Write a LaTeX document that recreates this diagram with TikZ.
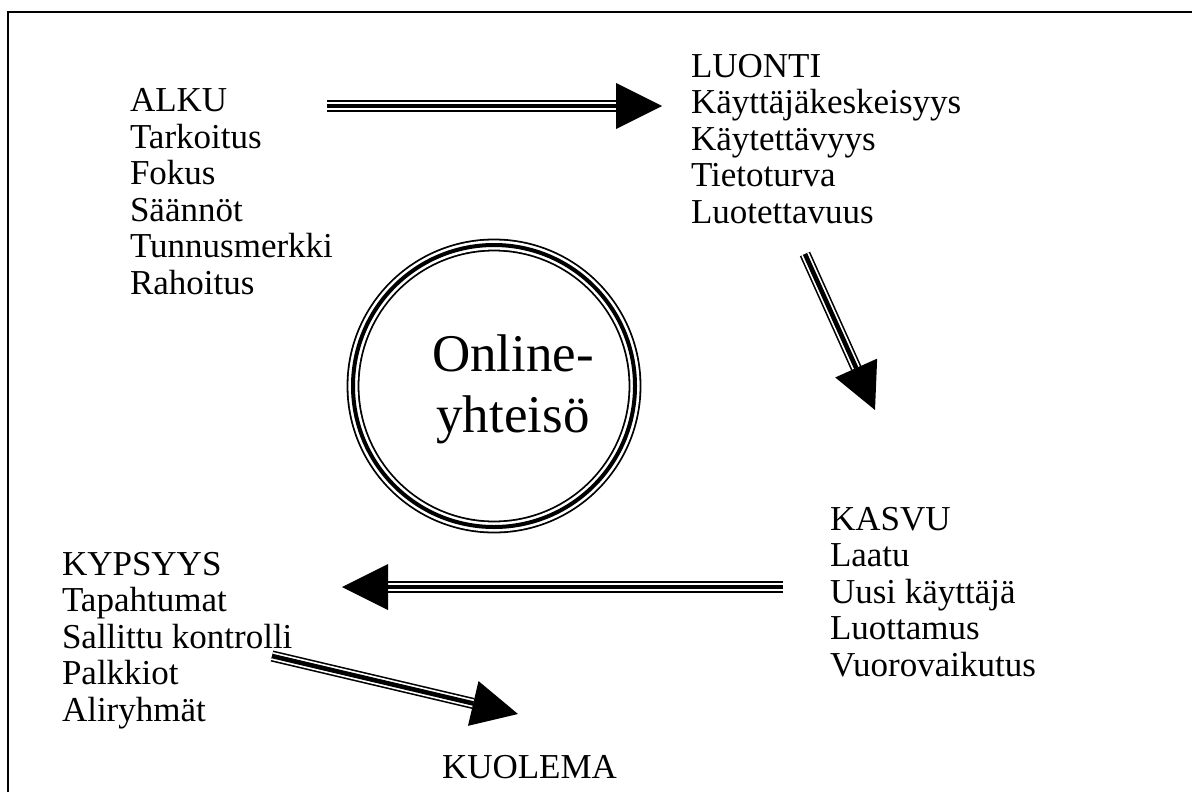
\documentclass[tikz,border=0pt]{standalone}
\usepackage{fontspec}
\setmainfont{Liberation Serif}
\usetikzlibrary{calc}

% one unit = one pixel of a 1192 x 792 canvas, y grows downwards
\tikzset{
  every picture/.style={x=0.5pt,y=-0.5pt},
  txt/.style={anchor=base west,inner sep=0pt,outer sep=0pt,
              font=\fontsize{17.5}{21}\selectfont},
  bigtxt/.style={anchor=base,inner sep=0pt,outer sep=0pt,
              font=\fontsize{26.5}{32}\selectfont},
  % thin - thick - thin line
  triple/.style={draw=black,line width=5.6pt,
                 postaction={draw=white,line width=4pt},
                 postaction={draw=black,line width=2.3pt}},
  tripleround/.style={draw=black,line width=6.4pt,
                 postaction={draw=white,line width=4.6pt},
                 postaction={draw=black,line width=2pt}},
  headfill/.style={fill=black},
  frame/.style={draw=black,line width=1pt}
}

% shaft from #1 to the head base, filled triangular head ending at #2
\newcommand{\fatarrow}[2]{%
  \coordinate (hb) at ($(#2)!23pt!(#1)$);
  \draw[triple] (#1) -- (hb);
  \fill[headfill] ($(hb)!11.5pt!90:(#2)$) -- (#2) -- ($(hb)!11.5pt!-90:(#2)$) -- cycle;
}

\begin{document}
\begin{tikzpicture}
\useasboundingbox (0,0) rectangle (1192,792);
\fill[white] (0,0) rectangle (1192,792);

% page frame (runs off to the right and bottom)
\draw[frame] (8,792) -- (8,12) -- (1192,12);

% stage lists
\foreach \t [count=\i] in {ALKU,Tarkoitus,Fokus,Säännöt,Tunnusmerkki,Rahoitus}
  \node[txt] (alku-\i) at (130,{112+36.4*(\i-1)}) {\t};
\foreach \t [count=\i] in {LUONTI,Käyttäjäkeskeisyys,Käytettävyys,Tietoturva,Luotettavuus}
  \node[txt] (luonti-\i) at (691,{77+36.5*(\i-1)}) {\t};
\foreach \t [count=\i] in {KASVU,Laatu,Uusi käyttäjä,Luottamus,Vuorovaikutus}
  \node[txt] (kasvu-\i) at (830,{530+36.5*(\i-1)}) {\t};
\foreach \t [count=\i] in {KYPSYYS,Tapahtumat,Sallittu kontrolli,Palkkiot,Aliryhmät}
  \node[txt] (kypsyys-\i) at (62,{575+36.5*(\i-1)}) {\t};
\node[txt] (kuolema) at (442,778) {KUOLEMA};

% centre circle
\coordinate (cc) at (494,386);
\draw[tripleround] (cc) circle (70.5pt);
\node[bigtxt] (online) at (513,371) {Online-};
\node[bigtxt] (yhteiso) at (513,432) {yhteisö};

% transitions between stages
\coordinate (a1s) at (327,106);
\coordinate (a1e) at (662,106);
\coordinate (a2s) at (805,254);
\coordinate (a2e) at (875,410);
\coordinate (a3s) at (783,587);
\coordinate (a3e) at (342,587);
\coordinate (a4s) at (272,656);
\coordinate (a4e) at (518,714);
\fatarrow{a1s}{a1e}
\fatarrow{a2s}{a2e}
\fatarrow{a3s}{a3e}
\fatarrow{a4s}{a4e}
\end{tikzpicture}
\end{document}
